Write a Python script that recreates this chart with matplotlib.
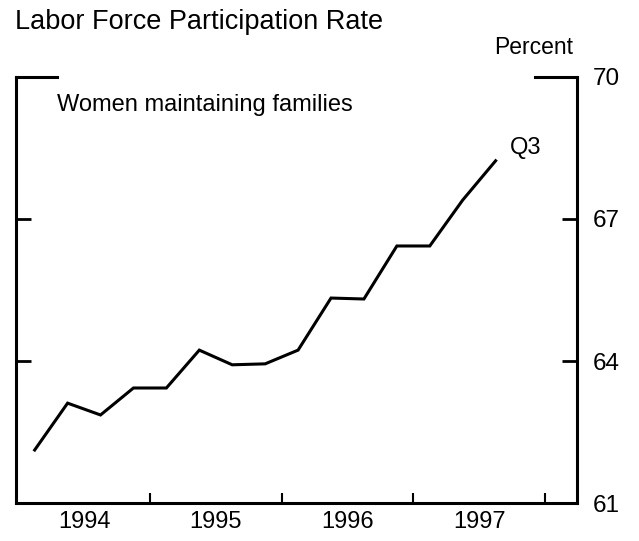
import matplotlib
matplotlib.use('Agg')
import matplotlib.pyplot as plt

plt.rcParams['font.family'] = ['Liberation Sans', 'DejaVu Sans']

# quarterly data, 1994 Q1 - 1997 Q3
years = [1994, 1994, 1994, 1994, 1995, 1995, 1995, 1995,
         1996, 1996, 1996, 1996, 1997, 1997, 1997]
quarters = [1, 2, 3, 4, 1, 2, 3, 4, 1, 2, 3, 4, 1, 2, 3]
rate = [62.12, 63.11, 62.86, 63.43, 63.43, 64.23, 63.92, 63.94,
        64.23, 65.33, 65.31, 66.43, 66.43, 67.40, 68.23]

year_labels = ['1994', '1995', '1996', '1997']
y_ticks = [61, 64, 67, 70]

x = [y + (q - 0.5) / 4 for y, q in zip(years, quarters)]

fig = plt.figure(figsize=(6.39, 5.41), dpi=100)
ax = fig.add_axes([0.025, 0.0702, 0.878, 0.7875])

ax.plot(x, rate, color='black', linewidth=2.2, solid_joinstyle='miter')

ax.set_xlim(1993.983, 1998.243)
ax.set_ylim(61, 70)

# spines
ax.spines['top'].set_visible(False)
for s in ['left', 'right', 'bottom']:
    ax.spines[s].set_linewidth(2.2)
# partial top bracket
ax.plot([0, 0.073], [1, 1], transform=ax.transAxes, color='black',
        linewidth=2.2, clip_on=False, solid_capstyle='projecting')
ax.plot([0.925, 1], [1, 1], transform=ax.transAxes, color='black',
        linewidth=2.2, clip_on=False, solid_capstyle='projecting')

# y axis on right, ticks inward both sides
ax.yaxis.tick_right()
ax.set_yticks(y_ticks)
ax.set_yticklabels([str(v) for v in y_ticks])
ax.tick_params(axis='y', which='major', direction='in', length=11, width=2,
               left=True, right=True, labelleft=False, labelright=True,
               labelsize=17.5, pad=11)

# x: ticks at year boundaries, labels at mid-year
ax.set_xticks([1995, 1996, 1997, 1998])
ax.set_xticklabels([])
ax.tick_params(axis='x', which='major', direction='in', length=7, width=1.5)
ax.set_xticks([1994.5, 1995.5, 1996.5, 1997.5], minor=True)
ax.set_xticklabels(year_labels, minor=True)
ax.tick_params(axis='x', which='minor', length=0, labelsize=17, pad=6)

ax.annotate('Q3', xy=(x[-1], rate[-1]), xytext=(10, 9), textcoords='offset points',
            ha='left', va='center', fontsize=17)

ax.text(0.073, 0.934, 'Women maintaining families', transform=ax.transAxes,
        ha='left', va='center', fontsize=17)
ax.text(573 / 639, 1 - 47 / 541, 'Percent', transform=fig.transFigure,
        ha='right', va='center', fontsize=16.5)

fig.text(15 / 639, 1 - 22 / 541, 'Labor Force Participation Rate',
         ha='left', va='center', fontsize=19.5)

fig.savefig('out.png', dpi=100, facecolor='white')
